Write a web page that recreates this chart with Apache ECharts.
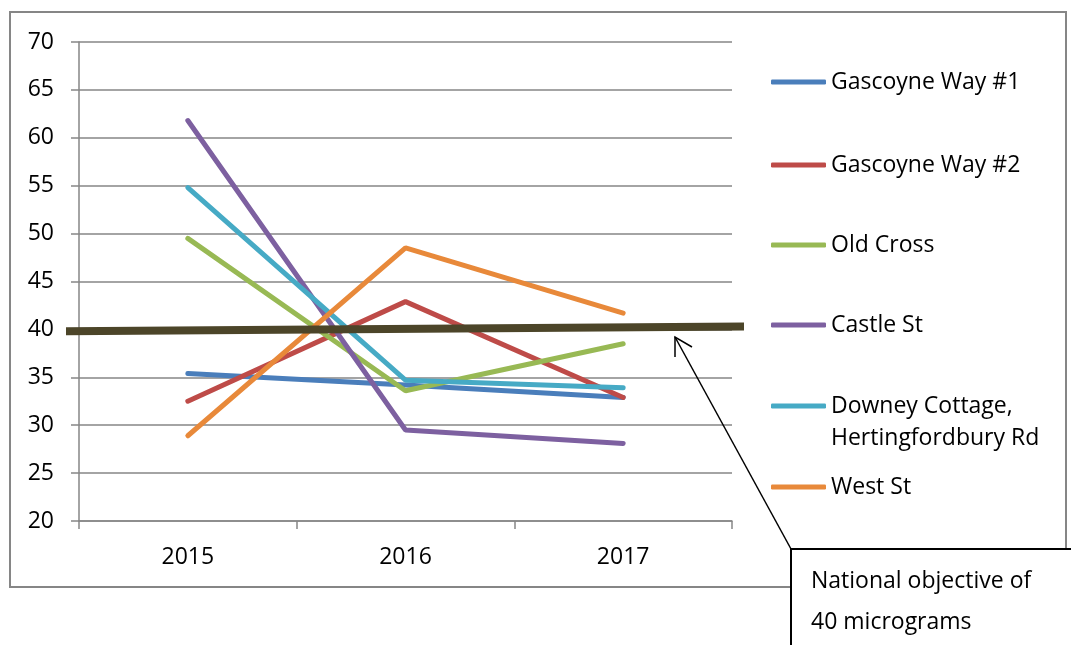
<!DOCTYPE html>
<html>
<head>
<meta charset="UTF-8" />
<title>NO2 chart</title>
<script src="https://cdn.jsdelivr.net/npm/echarts@6/dist/echarts.min.js"></script>
</head>
<body style="margin:0;background:#fff;">
<div id="main" style="width:1071px;height:645px;"></div>
<script type="text/javascript">
    // categories
    var years = ['2015', '2016', '2017'];
    var yTicks = [20, 25, 30, 35, 40, 45, 50, 55, 60, 65, 70];

    // sites and readings
    var siteNames = ['Gascoyne Way #1', 'Gascoyne Way #2', 'Old Cross', 'Castle St',
                     'Downey Cottage, Hertingfordbury Rd', 'West St'];
    var gascoyne1 = [35.4, 34.2, 32.9];
    var gascoyne2 = [32.5, 42.9, 32.9];
    var oldCross = [49.5, 33.6, 38.5];
    var castleSt = [61.8, 29.5, 28.1];
    var downey = [54.8, 34.7, 33.9];
    var westSt = [28.9, 48.5, 41.7];
    var siteValues = [gascoyne1, gascoyne2, oldCross, castleSt, downey, westSt];
    var siteColors = ['#4A7EBB', '#BE4B48', '#98B954', '#7D60A0', '#46AAC5', '#E8893A'];

    // national objective line, drawn in its own slightly wider grid (x from 0 to 1)
    var objectiveX = [0, 1];
    var objectiveY = [39.8, 40.3];

    var font = 'Open Sans';

    var series = [];
    for (let i = 0; i < siteNames.length; i++) {
        series.push({
            name: siteNames[i],
            type: 'line',
            data: siteValues[i],
            symbol: 'none',
            lineStyle: { color: siteColors[i], width: 5, cap: 'round' },
            itemStyle: { color: siteColors[i] },
            z: 2
        });
    }
    series.push({
        name: 'objective',
        type: 'line',
        xAxisIndex: 1,
        yAxisIndex: 1,
        data: [[objectiveX[0], objectiveY[0]], [objectiveX[1], objectiveY[1]]],
        symbol: 'none',
        clip: false,
        lineStyle: { color: '#4C4529', width: 8 },
        z: 3
    });

    // one legend per site so the two-line entry keeps its icon on the first line
    var legendTops = [61, 144, 224, 304, 353, 466];
    var legends = [];
    for (let i = 0; i < siteNames.length; i++) {
        var twoLine = i === 4;
        legends.push({
            left: 766,
            top: legendTops[i],
            orient: 'vertical',
            icon: 'roundRect',
            itemWidth: 55,
            itemHeight: 5,
            selectedMode: false,
            data: [siteNames[i]],
            formatter: twoLine ? '{s| }\n{a|Downey Cottage,}\n{a|Hertingfordbury Rd}' : '{name}',
            textStyle: {
                fontFamily: font, fontSize: 23, color: '#000', lineHeight: 32,
                rich: {
                    s: { fontSize: 23, lineHeight: 32 },
                    a: { fontFamily: font, fontSize: 23, color: '#000', lineHeight: 32 }
                }
            }
        });
    }

    var option = {
        animation: false,
        backgroundColor: '#fff',
        grid: [
            { left: 79, right: 339, top: 42, bottom: 124 },
            { left: 66, right: 327, top: 42, bottom: 124 }
        ],
        legend: legends,
        xAxis: [{
            type: 'category',
            gridIndex: 0,
            data: years,
            boundaryGap: true,
            axisLine: { lineStyle: { color: '#868686', width: 1.5 } },
            axisTick: { show: true, length: 8, lineStyle: { color: '#868686', width: 1.5 } },
            axisLabel: { fontFamily: font, fontSize: 23, color: '#000', margin: 25 },
            splitLine: { show: false }
        }, {
            type: 'value',
            gridIndex: 1,
            min: 0,
            max: 1,
            show: false
        }],
        yAxis: [{
            type: 'value',
            gridIndex: 0,
            min: yTicks[0],
            max: yTicks[yTicks.length - 1],
            interval: 5,
            axisLine: { show: true, lineStyle: { color: '#868686', width: 1.5 } },
            axisTick: { show: true, length: 8, lineStyle: { color: '#868686', width: 1.5 } },
            axisLabel: { fontFamily: font, fontSize: 23, color: '#000', margin: 25 },
            splitLine: { lineStyle: { color: '#868686', width: 1.5 } }
        }, {
            type: 'value',
            gridIndex: 1,
            min: yTicks[0],
            max: yTicks[yTicks.length - 1],
            show: false
        }],
        series: series,
        graphic: [
            { type: 'rect', shape: { x: 10, y: 12, width: 1056, height: 575 },
              style: { fill: null, stroke: '#868686', lineWidth: 2 }, z: 0 },
            { type: 'rect', shape: { x: 791, y: 549, width: 300, height: 120 },
              style: { fill: '#fff', stroke: '#000', lineWidth: 2 }, z: 10 },
            { type: 'text', left: 811, top: 561, z: 11,
              style: { text: 'National objective of\n40 micrograms', fontFamily: font, fontSize: 23,
                       lineHeight: 41, fill: '#000' } },
            { type: 'polyline', shape: { points: [[791, 549], [675, 337]] },
              style: { stroke: '#000', lineWidth: 1.5, fill: null }, z: 10 },
            { type: 'polyline', shape: { points: [[675, 357], [675, 337], [692, 347]] },
              style: { stroke: '#000', lineWidth: 1.5, fill: null }, z: 10 }
        ]
    };

    var myChart = echarts.init(document.getElementById('main'));
    myChart.setOption(option);
</script>
</body>
</html>
